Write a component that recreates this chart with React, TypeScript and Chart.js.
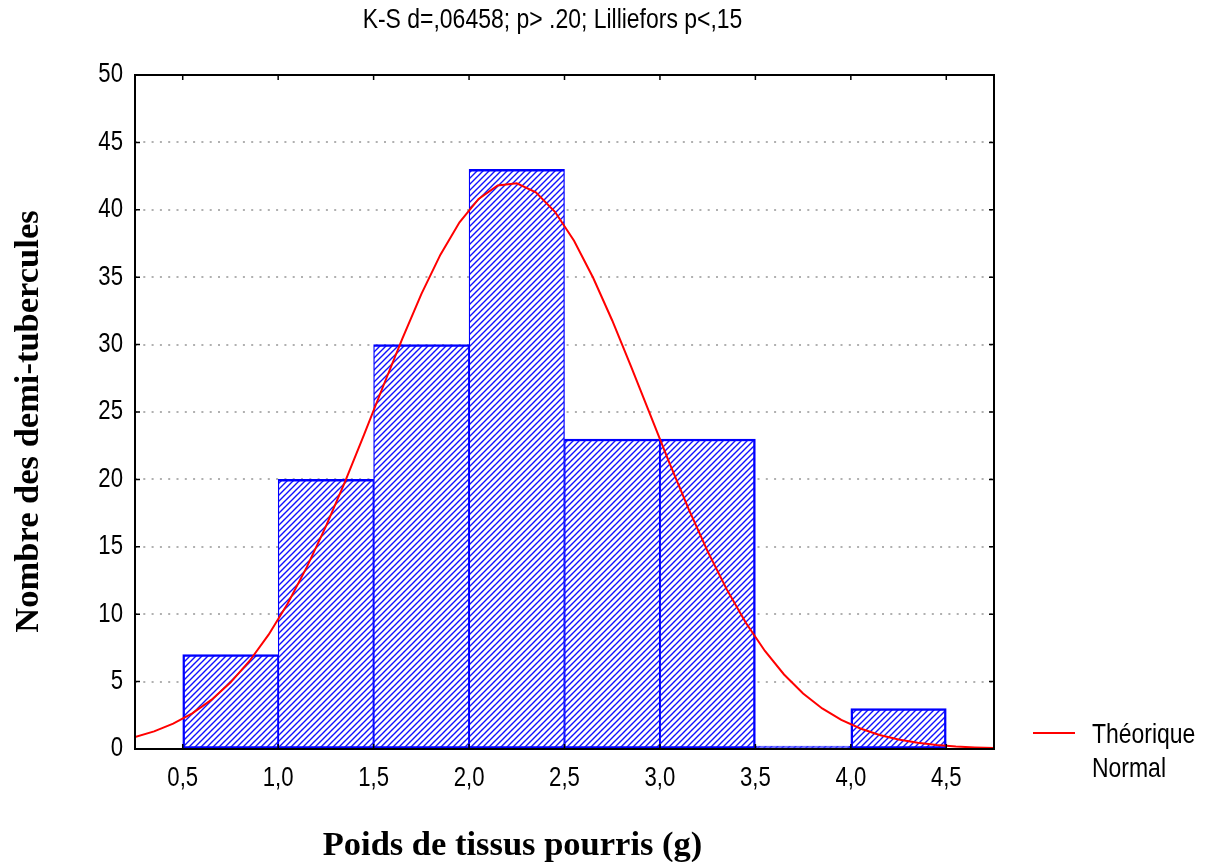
import React, { useEffect, useRef } from 'react';
import { Chart, registerables } from 'chart.js';

Chart.register(...registerables);

// ---- data ----
const binCenters = [0.75, 1.25, 1.75, 2.25, 2.75, 3.25, 3.75, 4.25];
const binCounts = [7, 20, 30, 43, 23, 23, 0, 3];
const xTickValues = [0.5, 1.0, 1.5, 2.0, 2.5, 3.0, 3.5, 4.0, 4.5];
const yTickValues = [0, 5, 10, 15, 20, 25, 30, 35, 40, 45, 50];
const curveX = [
  0.25, 0.35, 0.45, 0.55, 0.65, 0.75, 0.85, 0.95, 1.05, 1.15, 1.25, 1.35, 1.45, 1.55, 1.65, 1.75,
  1.85, 1.95, 2.05, 2.15, 2.25, 2.35, 2.45, 2.55, 2.65, 2.75, 2.85, 2.95, 3.05, 3.15, 3.25, 3.35,
  3.45, 3.55, 3.65, 3.75, 3.85, 3.95, 4.05, 4.15, 4.25, 4.35, 4.45, 4.55, 4.65, 4.75,
];
const curveY = [
  0.89, 1.31, 1.88, 2.64, 3.64, 4.93, 6.53, 8.48, 10.8, 13.49, 16.52, 19.82, 23.33, 26.91, 30.43, 33.74,
  36.67, 39.07, 40.81, 41.8, 41.96, 41.3, 39.85, 37.7, 34.96, 31.79, 28.33, 24.76, 21.21, 17.81, 14.66, 11.84,
  9.37, 7.27, 5.53, 4.12, 3.01, 2.16, 1.52, 1.04, 0.71, 0.47, 0.3, 0.19, 0.12, 0.07,
];
const chartTitle = 'K-S d=,06458; p> .20; Lilliefors p<,15';
const xAxisTitle = 'Poids de tissus pourris (g)';
const yAxisTitle = 'Nombre des demi-tubercules';
const legendLines = ['Théorique', 'Normal'];

const formatX = (v: number) => v.toFixed(1).replace('.', ',');

function hasFont(name: string): boolean {
  const c = document.createElement('canvas').getContext('2d');
  if (!c) return false;
  const s = 'abcdefghijklmnopqrstuvwxyz0123456789ABCDEFGH';
  c.font = '40px monospace';
  const a = c.measureText(s).width;
  c.font = `40px "${name}", monospace`;
  const b = c.measureText(s).width;
  return Math.abs(a - b) > 0.5;
}

function makeHatch(): CanvasPattern | string {
  const t = document.createElement('canvas');
  const n = 6;
  t.width = n;
  t.height = n;
  const g = t.getContext('2d');
  if (!g) return '#fff';
  g.fillStyle = '#ffffff';
  g.fillRect(0, 0, n, n);
  g.strokeStyle = '#1010ff';
  g.lineWidth = 1.4;
  g.beginPath();
  g.moveTo(-1, n + 1);
  g.lineTo(n + 1, -1);
  g.moveTo(-1, 1);
  g.lineTo(1, -1);
  g.moveTo(n - 1, n + 1);
  g.lineTo(n + 1, n - 1);
  g.stroke();
  const p = g.createPattern(t, 'repeat');
  return p || '#fff';
}

export default function App() {
  const ref = useRef<HTMLCanvasElement | null>(null);

  useEffect(() => {
    if (!ref.current) return;
    const narrow = hasFont('Liberation Sans Narrow');
    const sans = narrow
      ? '"Liberation Sans Narrow", "Liberation Sans", Arial, sans-serif'
      : '"Liberation Sans", Arial, sans-serif';
    const sx = narrow ? 1 : 0.82;
    const tickSize = 27;
    const textSize = 28;
    const serif = '"Liberation Serif", "Times New Roman", serif';
    const hatch = makeHatch();

    const drawNarrow = (ctx: CanvasRenderingContext2D, s: string, x: number, y: number, align: CanvasTextAlign) => {
      ctx.save();
      ctx.translate(x, y);
      ctx.scale(sx, 1);
      ctx.textAlign = align;
      ctx.fillText(s, 0, 0);
      ctx.restore();
    };

    const decor = {
      id: 'decor',
      afterDatasetsDraw(chart: any) {
        const { ctx, chartArea: a, scales } = chart;
        ctx.save();
        ctx.strokeStyle = '#000';
        ctx.lineWidth = 2;
        ctx.strokeRect(a.left, a.top, a.right - a.left, a.bottom - a.top);
        ctx.lineWidth = 1.5;
        ctx.beginPath();
        scales.y.ticks.forEach((t: any) => {
          const p = scales.y.getPixelForValue(t.value);
          ctx.moveTo(a.left, p);
          ctx.lineTo(a.left + 5, p);
          ctx.moveTo(a.right, p);
          ctx.lineTo(a.right - 5, p);
        });
        scales.x.ticks.forEach((t: any) => {
          const p = scales.x.getPixelForValue(t.value);
          ctx.moveTo(p, a.top);
          ctx.lineTo(p, a.top + 5);
          ctx.moveTo(p, a.bottom);
          ctx.lineTo(p, a.bottom - 5);
        });
        ctx.stroke();
        ctx.restore();
      },
      afterDraw(chart: any) {
        const { ctx, chartArea: a, scales } = chart;
        ctx.save();
        ctx.fillStyle = '#000';
        // tick labels (condensed sans, positioned by the chart scales)
        ctx.font = `${tickSize}px ${sans}`;
        ctx.textBaseline = 'middle';
        scales.y.ticks.forEach((t: any) => {
          const p = scales.y.getPixelForValue(t.value);
          drawNarrow(ctx, t.label != null ? String(t.label) : String(t.value), a.left - 12, p, 'right');
        });
        scales.x.ticks.forEach((t: any) => {
          const p = scales.x.getPixelForValue(t.value);
          drawNarrow(ctx, t.label != null ? String(t.label) : formatX(t.value), p, a.bottom + 30, 'center');
        });
        // top title
        ctx.font = `${textSize}px ${sans}`;
        ctx.textBaseline = 'alphabetic';
        drawNarrow(ctx, chartTitle, 552.5, 28, 'center');
        // x axis title
        ctx.font = `bold 34.5px ${serif}`;
        ctx.textAlign = 'center';
        ctx.fillText(xAxisTitle, 512.5, 855);
        // y axis title
        ctx.save();
        ctx.translate(38, 421.5);
        ctx.rotate(-Math.PI / 2);
        ctx.fillText(yAxisTitle, 0, 0);
        ctx.restore();
        // legend
        const lx = a.right + 39;
        const ly = a.bottom - 16;
        ctx.strokeStyle = '#ff0000';
        ctx.lineWidth = 2;
        ctx.beginPath();
        ctx.moveTo(lx, ly);
        ctx.lineTo(lx + 42, ly);
        ctx.stroke();
        ctx.font = `${textSize}px ${sans}`;
        legendLines.forEach((s, i) => drawNarrow(ctx, s, lx + 59, ly + 10 + i * 34, 'left'));
        ctx.restore();
      },
    };

    const chart = new Chart(ref.current, {
      type: 'bar',
      data: {
        datasets: [
          {
            type: 'line',
            label: 'Théorique Normal',
            data: curveX.map((x, i) => ({ x, y: curveY[i] })),
            borderColor: '#ff0000',
            borderWidth: 2,
            pointRadius: 0,
            tension: 0,
            fill: false,
            order: 0,
          } as any,
          {
            type: 'bar',
            label: 'Nombre',
            data: binCenters.map((x, i) => ({ x, y: binCounts[i] })),
            backgroundColor: hatch as any,
            borderColor: '#0000ff',
            borderWidth: (c: any) => {
              const i = c.dataIndex;
              const first = i === 0 || binCounts[i - 1] === 0;
              const last = i === binCounts.length - 1 || binCounts[i + 1] === 0;
              return { top: 2.5, bottom: 2, left: first ? 2.5 : 1.3, right: last ? 2.5 : 1.3 };
            },
            borderSkipped: false,
            barPercentage: 1,
            categoryPercentage: 1,
            minBarLength: 3,
            order: 1,
          } as any,
        ],
      },
      options: {
        animation: false,
        responsive: false,
        devicePixelRatio: 1,
        layout: { padding: { top: 75, right: 213, left: 0, bottom: 0 } },
        plugins: {
          legend: { display: false },
          title: { display: false },
          tooltip: { enabled: false },
        },
        scales: {
          x: {
            type: 'linear',
            min: 0.25,
            max: 4.75,
            offset: false,
            afterBuildTicks: (s: any) => {
              s.ticks = xTickValues.map((v) => ({ value: v }));
            },
            afterFit: (s: any) => {
              s.height = 113;
            },
            grid: { display: false, drawTicks: false },
            border: { display: false },
            ticks: {
              display: false,
              autoSkip: false,
              maxRotation: 0,
              callback: (v: any) => formatX(Number(v)),
            },
          },
          y: {
            type: 'linear',
            min: 0,
            max: 50,
            afterBuildTicks: (s: any) => {
              s.ticks = yTickValues.map((v) => ({ value: v }));
            },
            afterFit: (s: any) => {
              s.width = 135;
            },
            grid: {
              drawTicks: false,
              color: (c: any) =>
                c.tick && (c.tick.value === 0 || c.tick.value === 50) ? 'rgba(0,0,0,0)' : '#b0b0b0',
              lineWidth: 2,
            },
            border: { display: false, dash: [2, 6.3] },
            ticks: {
              display: false,
              callback: (v: any) => String(v),
            },
          },
        },
      } as any,
      plugins: [decor],
    });
    return () => chart.destroy();
  }, []);

  return (
    <div style={{ position: 'absolute', left: 0, top: 0, width: 1207, height: 862, background: '#fff' }}>
      <canvas ref={ref} width={1207} height={862} />
    </div>
  );
}
